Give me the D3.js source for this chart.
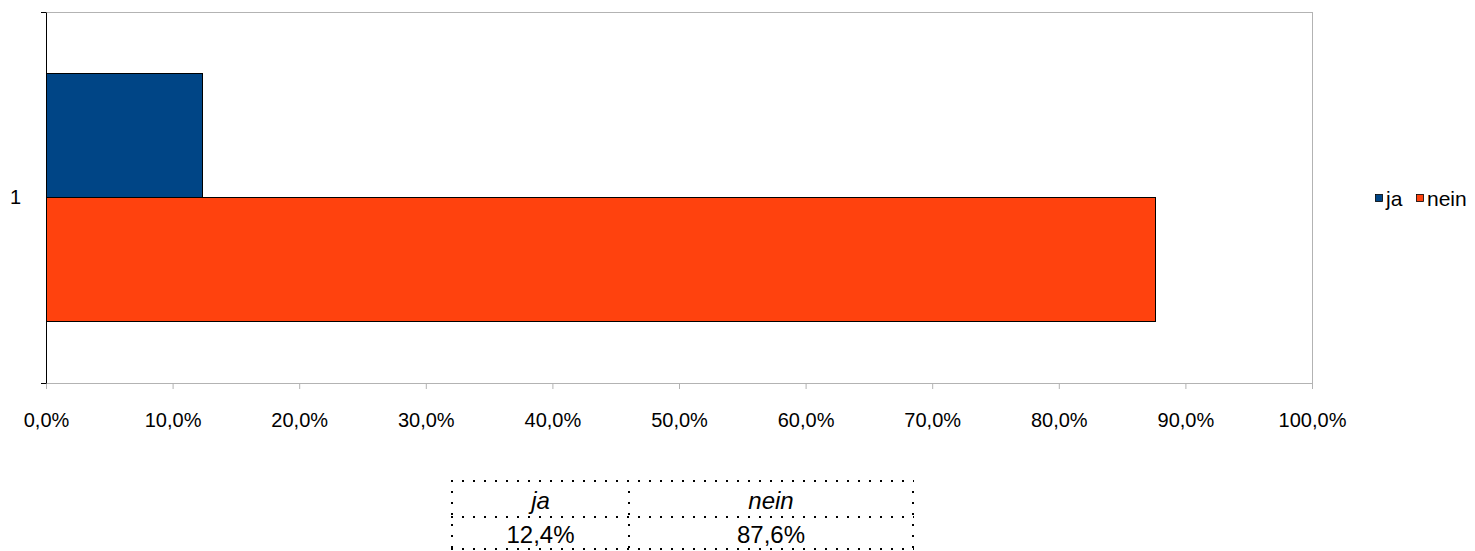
<!DOCTYPE html>
<html><head><meta charset="utf-8">
<script src="https://cdn.jsdelivr.net/npm/d3@7"></script>
<style>body{margin:0;background:#fff;} svg{display:block;font-family:"Liberation Sans",Arial,sans-serif;}</style>
</head><body>
<svg id="c" width="1475" height="551"></svg>
<script>
const categories = ["1"];
const seriesNames = ["ja", "nein"];
const seriesValues = [0.124, 0.876];
const seriesColors = ["#004586", "#ff420e"];
const tickValues = [0,0.1,0.2,0.3,0.4,0.5,0.6,0.7,0.8,0.9,1.0];
const tableLabels = ["12,4%", "87,6%"];

const FF = "Liberation Sans, Arial, sans-serif";
const svg = d3.select("#c");
const L = 46, R = 1312, T = 12, B = 383;
const x = d3.scaleLinear().domain([0,1]).range([L,R]);
const y = d3.scaleBand().domain(categories).range([T,B]);
const ys = d3.scaleBand().domain(seriesNames).range([y("1"), y("1")+y.bandwidth()]).paddingOuter(0.5).paddingInner(0);

// frame: top and right light gray
svg.append("line").attr("x1",L).attr("x2",R).attr("y1",T+0.5).attr("y2",T+0.5).attr("stroke","#b3b3b3");
svg.append("line").attr("x1",R+0.5).attr("x2",R+0.5).attr("y1",T).attr("y2",B).attr("stroke","#b3b3b3");

// bars
svg.selectAll("rect.bar").data(seriesNames).enter().append("rect")
  .attr("x", L).attr("y", d=>ys(d))
  .attr("width", (d,i)=>x(seriesValues[i])-L).attr("height", ys.bandwidth())
  .attr("fill",(d,i)=>seriesColors[i]).attr("stroke","#000").attr("stroke-width",1).attr("shape-rendering","crispEdges");

// x axis
const xa = svg.append("g").attr("transform",`translate(0,${B})`)
  .call(d3.axisBottom(x).tickValues(tickValues).tickSize(6).tickSizeOuter(0)
    .tickFormat(d=>d3.format(".1f")(d*100).replace(".",",")+"%"));
xa.attr("font-size",20).attr("font-family",FF);
xa.select(".domain").attr("stroke","#b3b3b3");
xa.selectAll(".tick line").attr("stroke","#b3b3b3");
xa.selectAll(".tick text").attr("fill","#000").attr("dy",0).attr("y",44);

// y axis
const ya = svg.append("g").attr("transform",`translate(${L},0)`)
  .call(d3.axisLeft(y).tickSize(0).tickSizeOuter(0).tickPadding(25));
ya.attr("font-size",20).attr("font-family",FF);
ya.select(".domain").attr("stroke","#000");
ya.selectAll(".tick text").attr("fill","#000");
// outer ticks at ends
[T,B].forEach(v=>svg.append("line").attr("x1",L-5).attr("x2",L).attr("y1",v+0.5).attr("y2",v+0.5).attr("stroke","#000"));

// legend
const lg = svg.append("g").attr("font-size",21).attr("font-family",FF);
const lgX = [1375, 1416];
seriesNames.forEach((n,i)=>{
  lg.append("rect").attr("x",lgX[i]+0.5).attr("y",194.5).attr("width",7).attr("height",7)
    .attr("fill",seriesColors[i]).attr("stroke","#000").attr("stroke-width",0.8);
  lg.append("text").attr("x",lgX[i]+11).attr("y",206).text(n);
});

// data table
const tx = [452, 629, 913], ty = [481, 517, 549];
const tg = svg.append("g").attr("stroke","#000").attr("stroke-width",2).attr("stroke-dasharray","2,9");
ty.forEach(yy=>tg.append("line").attr("x1",tx[0]-1).attr("x2",tx[2]+1).attr("y1",yy).attr("y2",yy));
tx.forEach(xx=>tg.append("line").attr("x1",xx).attr("x2",xx).attr("y1",ty[0]+10).attr("y2",ty[2]));
seriesNames.forEach((n,i)=>{
  const cx = (tx[i]+tx[i+1])/2;
  svg.append("text").attr("x",cx).attr("y",509).attr("text-anchor","middle").attr("font-size",24)
    .attr("font-family",FF).attr("font-style","italic").text(n);
  svg.append("text").attr("x",cx).attr("y",543).attr("text-anchor","middle").attr("font-size",24)
    .attr("font-family",FF).text(tableLabels[i]);
});
</script>
</body></html>
